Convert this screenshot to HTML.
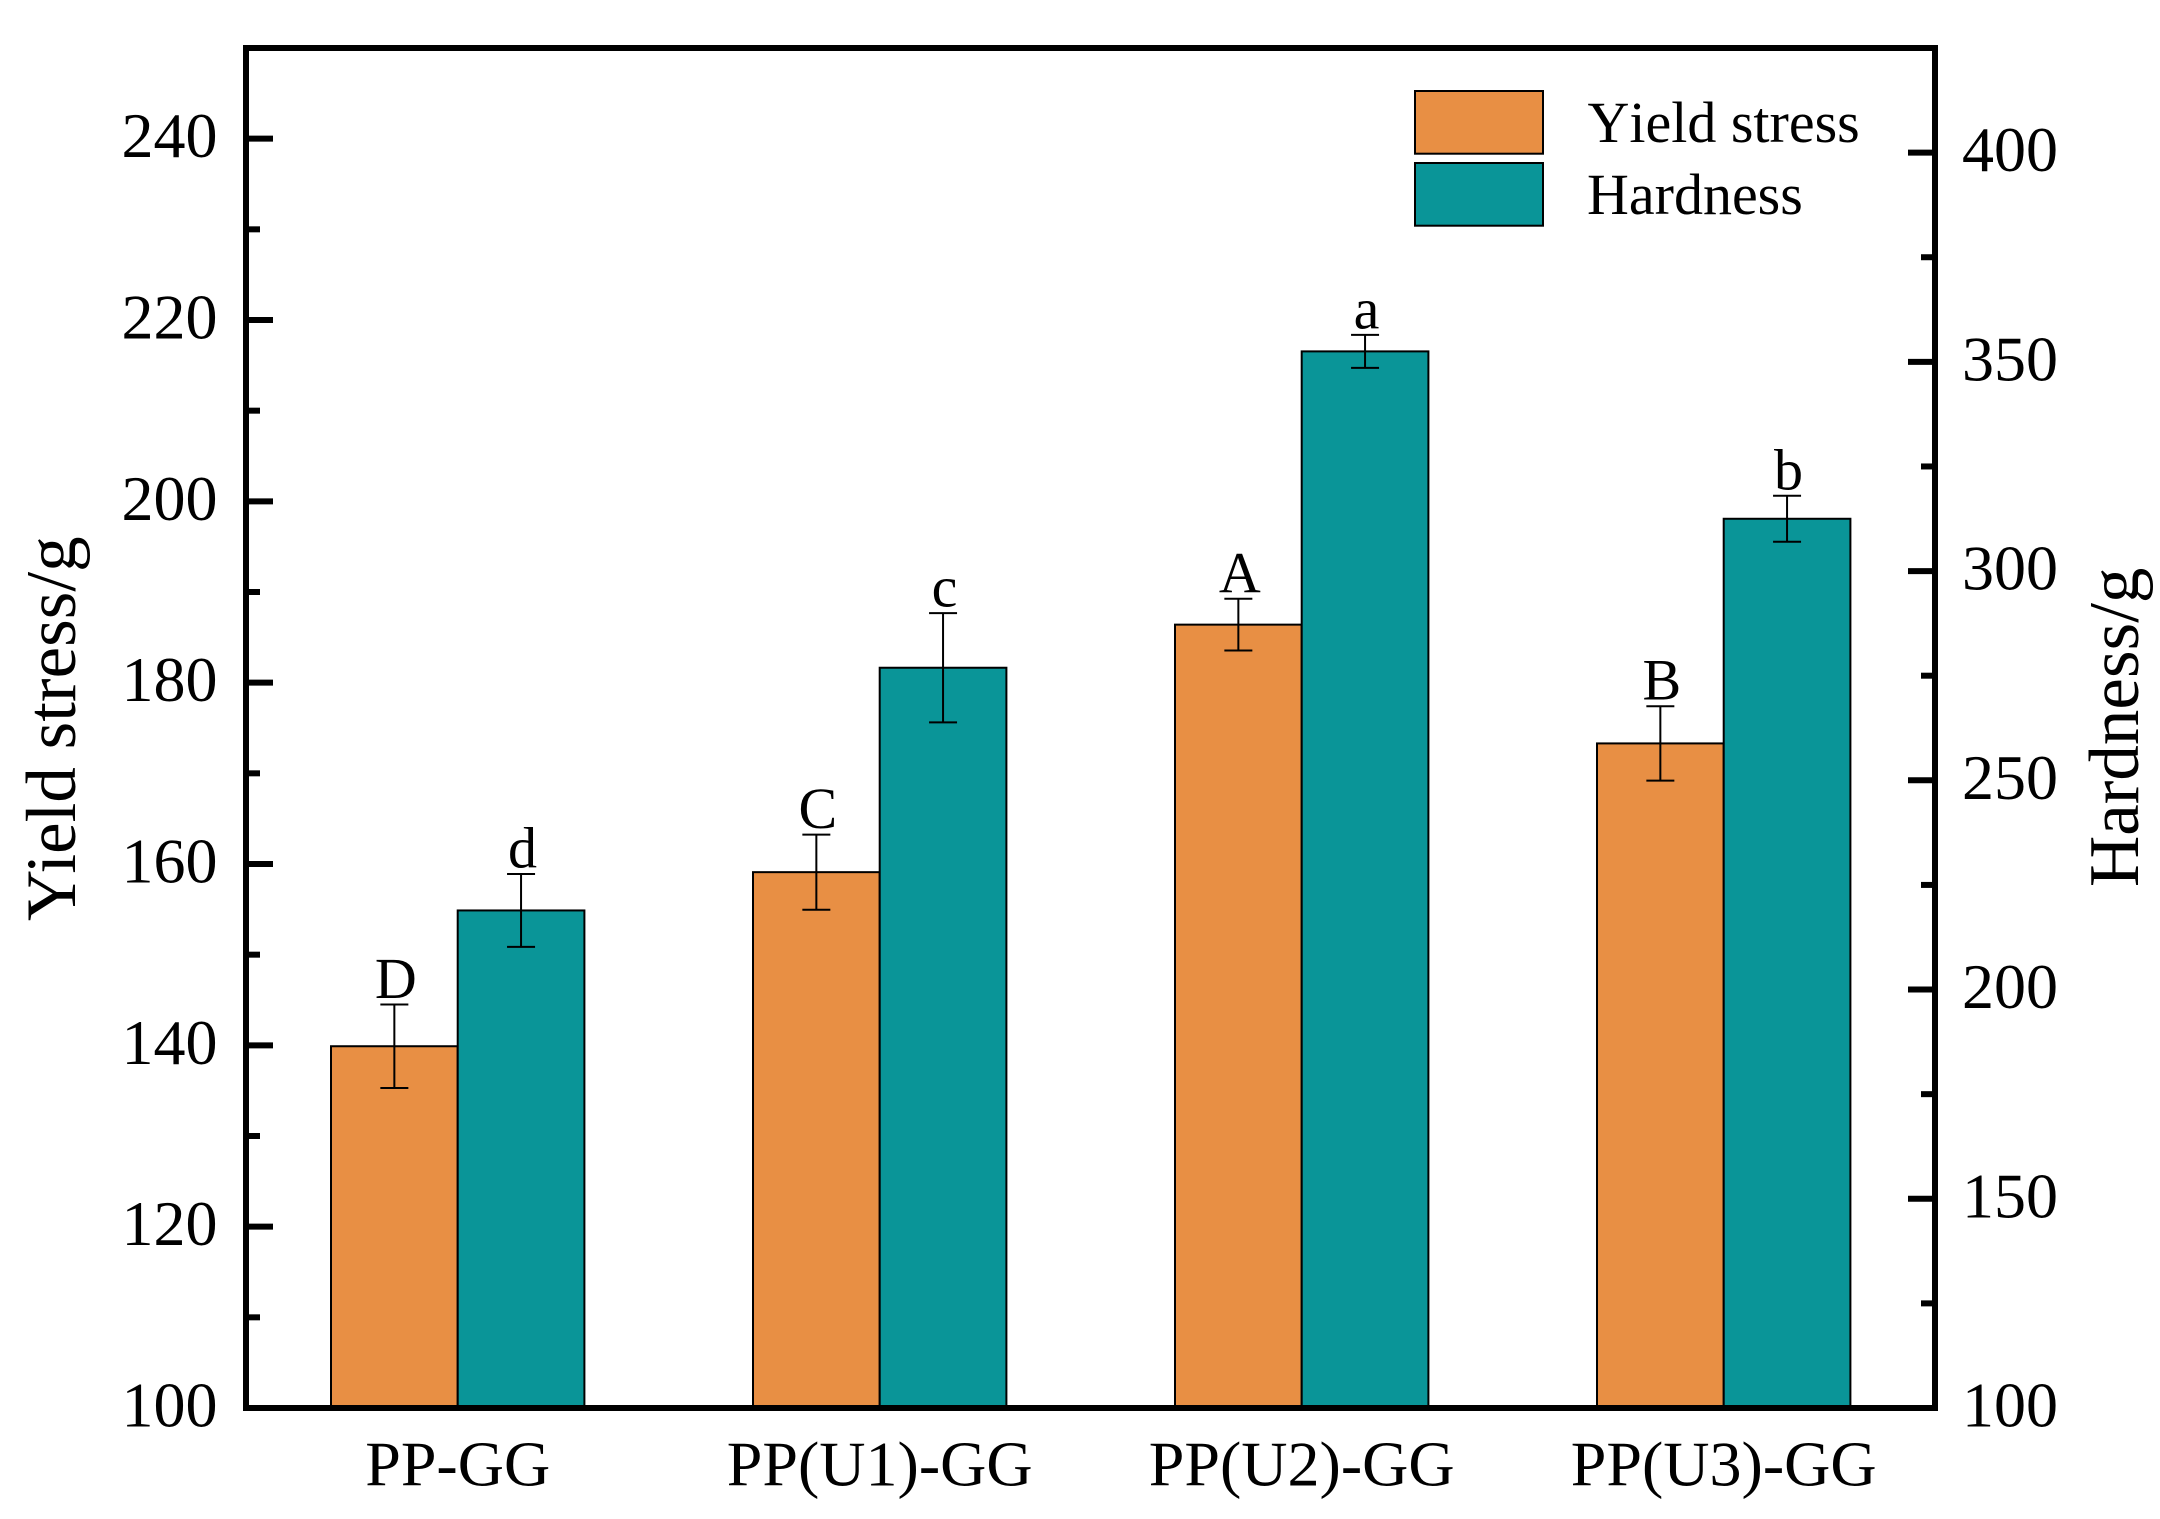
<!DOCTYPE html>
<html lang="en">
<head>
<meta charset="utf-8">
<title>Yield stress and hardness chart</title>
<style>
html,body{margin:0;padding:0;background:#fff;width:2160px;height:1519px;overflow:hidden}
svg{display:block}
text{font-family:"Liberation Serif",serif;fill:#000}
</style>
</head>
<body>
<svg id="chart" xmlns="http://www.w3.org/2000/svg" width="2160" height="1519" viewBox="0 0 2160 1519">
  <rect x="0" y="0" width="2160" height="1519" fill="#fff"/>
  <g id="bars"></g>
  <g id="errors"></g>
  <g id="letters"></g>
  <g id="axes"></g>
  <rect x="246" y="48" width="1689" height="1360" fill="none" stroke="#000" stroke-width="6"/>
  <text transform="translate(75 921) rotate(-90)" font-size="71">Yield stress/g</text>
  <text transform="translate(2138 887) rotate(-90)" font-size="71">Hardness/g</text>
  <g>
    <rect x="1415" y="91" width="128" height="62.7" fill="#E88F44" stroke="#000" stroke-width="2"/>
    <text x="1587.5" y="142" font-size="58" style="font-kerning:none">Yield stress</text>
    <rect x="1415" y="163" width="128" height="62.7" fill="#0A9598" stroke="#000" stroke-width="2"/>
    <text x="1587" y="214" font-size="58" style="font-kerning:none">Hardness</text>
  </g>
</svg>
<script>
const categories = ["PP-GG", "PP(U1)-GG", "PP(U2)-GG", "PP(U3)-GG"];
const yieldStress = [139.9, 159.1, 186.4, 173.3];
const yieldError = [4.6, 4.14, 2.85, 4.1];
const hardness = [218.9, 276.9, 352.5, 312.5];
const hardnessError = [8.7, 13.06, 3.94, 5.5];
const yieldLetters = ["D", "C", "A", "B"];
const hardnessLetters = ["d", "c", "a", "b"];
const leftMajorTicks = [100, 120, 140, 160, 180, 200, 220, 240];
const leftMinorTicks = [110, 130, 150, 170, 190, 210, 230];
const rightMajorTicks = [100, 150, 200, 250, 300, 350, 400];
const rightMinorTicks = [125, 175, 225, 275, 325, 375];

const NS = "http://www.w3.org/2000/svg";
const plotBottom = 1408, plotTop = 48, plotLeft = 246, plotRight = 1935;
const barWidth = 126.7;
function yLeft(v) { return plotBottom - (v - 100) / (250 - 100) * (plotBottom - plotTop); }
function yRight(v) { return plotBottom - (v - 100) / (425 - 100) * (plotBottom - plotTop); }
function xCenter(i) { return 457.7 + i * 422; }
function mk(tag, parent) {
  const el = document.createElementNS(NS, tag);
  parent.appendChild(el);
  return el;
}
function setAll(el, props) {
  for (const k in props) el.setAttribute(k, props[k]);
}
const barsG = document.getElementById("bars");
const errG = document.getElementById("errors");
const letG = document.getElementById("letters");
const axG = document.getElementById("axes");

function drawSeries(values, errors, letters, yFn, offset, fill, prefix) {
  values.forEach(function (v, i) {
    const cx = xCenter(i) + offset * barWidth;
    const top = yFn(v);
    const bar = mk("rect", barsG);
    
    
    setAll(bar, { x: cx - barWidth / 2, y: top, width: barWidth, height: plotBottom - top, fill: fill, stroke: "#000", "stroke-width": 2 });

    const hi = yFn(v + errors[i]);
    const lo = yFn(v - errors[i]);
    const stem = mk("line", errG);
    
    
    setAll(stem, { x1: cx, x2: cx, y1: hi, y2: lo, stroke: "#000", "stroke-width": 2 });
    const capTop = mk("line", errG);
    
    
    setAll(capTop, { x1: cx - 14, x2: cx + 14, y1: hi, y2: hi, stroke: "#000", "stroke-width": 2 });
    const capBottom = mk("line", errG);
    
    
    setAll(capBottom, { x1: cx - 14, x2: cx + 14, y1: lo, y2: lo, stroke: "#000", "stroke-width": 2 });

    const label = mk("text", letG);
    
    
    setAll(label, { x: cx + 1.5, y: hi - 6.5, "font-size": 58, "text-anchor": "middle" });
    label.textContent = letters[i];
  });
}
drawSeries(yieldStress, yieldError, yieldLetters, yLeft, -0.5, "#E88F44", "yield-stress");
drawSeries(hardness, hardnessError, hardnessLetters, yRight, 0.5, "#0A9598", "hardness");

leftMajorTicks.forEach(function (v) {
  const y = yLeft(v);
  const tick = mk("line", axG);
  
  
  setAll(tick, { x1: plotLeft, x2: plotLeft + 27, y1: y, y2: y, stroke: "#000", "stroke-width": 6 });
  const label = mk("text", axG);
  
  
  setAll(label, { x: 217.5, y: y + 18.5, "font-size": 64, "text-anchor": "end" });
  label.textContent = v;
});
leftMinorTicks.forEach(function (v) {
  const y = yLeft(v);
  const tick = mk("line", axG);
  
  
  setAll(tick, { x1: plotLeft, x2: plotLeft + 14, y1: y, y2: y, stroke: "#000", "stroke-width": 6 });
});
rightMajorTicks.forEach(function (v) {
  const y = yRight(v);
  const tick = mk("line", axG);
  
  
  setAll(tick, { x1: plotRight, x2: plotRight - 27, y1: y, y2: y, stroke: "#000", "stroke-width": 6 });
  const label = mk("text", axG);
  
  
  setAll(label, { x: 1962, y: y + 18.5, "font-size": 64 });
  label.textContent = v;
});
rightMinorTicks.forEach(function (v) {
  const y = yRight(v);
  const tick = mk("line", axG);
  
  
  setAll(tick, { x1: plotRight, x2: plotRight - 14, y1: y, y2: y, stroke: "#000", "stroke-width": 6 });
});
categories.forEach(function (c, i) {
  const label = mk("text", axG);
  
  
  setAll(label, { x: xCenter(i), y: 1485.5, "font-size": 64, "text-anchor": "middle" });
  label.textContent = c;
});
</script>
</body>
</html>
